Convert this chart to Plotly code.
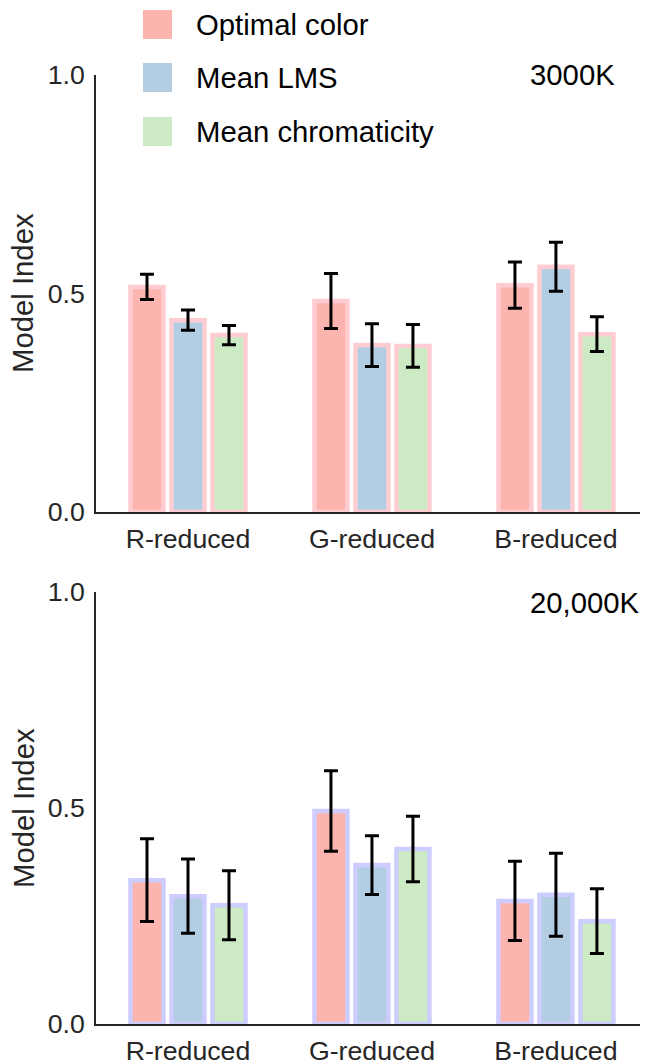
import plotly.graph_objects as go

# Category labels and series names
categories = ["R-reduced", "G-reduced", "B-reduced"]
series_names = ["Optimal color", "Mean LMS", "Mean chromaticity"]

# 3000K illuminant: model index and error
opt_3000 = [0.515, 0.483, 0.519]
opt_3000_err = [0.029, 0.063, 0.053]
lms_3000 = [0.439, 0.382, 0.561]
lms_3000_err = [0.023, 0.049, 0.056]
chr_3000 = [0.405, 0.380, 0.407]
chr_3000_err = [0.022, 0.049, 0.040]

# 20,000K illuminant: model index and error
opt_20000 = [0.333, 0.493, 0.285]
opt_20000_err = [0.096, 0.093, 0.092]
lms_20000 = [0.296, 0.368, 0.299]
lms_20000_err = [0.086, 0.068, 0.096]
chr_20000 = [0.275, 0.405, 0.238]
chr_20000_err = [0.080, 0.076, 0.075]

y_ticks = [0.0, 0.5, 1.0]
panel_titles = ["3000K", "20,000K"]

fill_colors = ["#fbb4ae", "#b3cde3", "#ccebc5"]
edge_colors = ["rgb(255,205,209)", "rgb(205,205,255)"]

W, H = 647, 1063
FONT = "Liberation Sans, Arial, sans-serif"
AXIS_COLOR = "#262626"


def px_x(x):
    return x / W


def px_y(y):
    return 1 - y / H


fig = go.Figure()

panels = [
    ([opt_3000, lms_3000, chr_3000], [opt_3000_err, lms_3000_err, chr_3000_err], "x", "y"),
    ([opt_20000, lms_20000, chr_20000], [opt_20000_err, lms_20000_err, chr_20000_err], "x2", "y2"),
]

for p, (vals, errs, xa, ya) in enumerate(panels):
    for i, name in enumerate(series_names):
        fig.add_trace(go.Bar(
            x=categories, y=vals[i], name=name,
            xaxis=xa, yaxis=ya, showlegend=False,
            marker=dict(color=fill_colors[i],
                        line=dict(color=edge_colors[p], width=4.5)),
            error_y=dict(type="data", array=errs[i], visible=True,
                         color="black", thickness=3, width=7),
            offsetgroup=str(i),
        ))

x_dom = [px_x(96), px_x(640)]
y_dom_top = [px_y(512), px_y(75)]
y_dom_bot = [px_y(1024), px_y(592)]

xaxis_common = dict(
    domain=x_dom, range=[-0.5, 2.457], type="category",
    showline=True, linecolor=AXIS_COLOR, linewidth=1.6,
    showgrid=False, zeroline=False, ticks="", automargin=False,
    tickfont=dict(family=FONT, size=26.7, color=AXIS_COLOR),
    ticklabelstandoff=2,
)
yaxis_common = dict(
    range=[0, 1], tickvals=y_ticks, tickformat=".1f",
    showline=True, linecolor=AXIS_COLOR, linewidth=1.6,
    showgrid=False, zeroline=False, ticks="", automargin=False,
    tickfont=dict(family=FONT, size=26.7, color=AXIS_COLOR),
    ticklabelstandoff=4,
)

fig.update_layout(
    width=W, height=H,
    margin=dict(l=0, r=0, t=0, b=0, autoexpand=False),
    paper_bgcolor="white", plot_bgcolor="white",
    barmode="group", bargap=0.3315, bargroupgap=0.195,
    xaxis=dict(**xaxis_common, anchor="y"),
    yaxis=dict(**yaxis_common, domain=y_dom_top, anchor="x"),
    xaxis2=dict(**xaxis_common, anchor="y2"),
    yaxis2=dict(**yaxis_common, domain=y_dom_bot, anchor="x2"),
    font=dict(family=FONT, color="black"),
)

annotations = []
shapes = []

# Legend swatches and labels
swatch_tops = [10, 63, 117]
for i, name in enumerate(series_names):
    top = swatch_tops[i]
    shapes.append(dict(
        type="rect", xref="paper", yref="paper",
        x0=px_x(143), x1=px_x(172), y0=px_y(top + 29), y1=px_y(top),
        fillcolor=fill_colors[i], line=dict(width=0),
    ))
    annotations.append(dict(
        text=name, xref="paper", yref="paper",
        x=px_x(194), y=px_y(top + 14.5), xanchor="left", yanchor="middle",
        showarrow=False, font=dict(family=FONT, size=29.3, color="black"),
    ))

# Panel titles
for title, yc in zip(panel_titles, [74, 602]):
    annotations.append(dict(
        text=title, xref="paper", yref="paper",
        x=px_x(528), y=px_y(yc), xanchor="left", yanchor="middle",
        showarrow=False, font=dict(family=FONT, size=29.3, color="black"),
    ))

# Y axis titles
for yc in [293, 808]:
    annotations.append(dict(
        text="Model Index", xref="paper", yref="paper",
        x=px_x(23), y=px_y(yc), xanchor="center", yanchor="middle",
        textangle=-90, showarrow=False,
        font=dict(family=FONT, size=29.3, color=AXIS_COLOR),
    ))

fig.update_layout(annotations=annotations, shapes=shapes)

fig.write_html("out.html")
